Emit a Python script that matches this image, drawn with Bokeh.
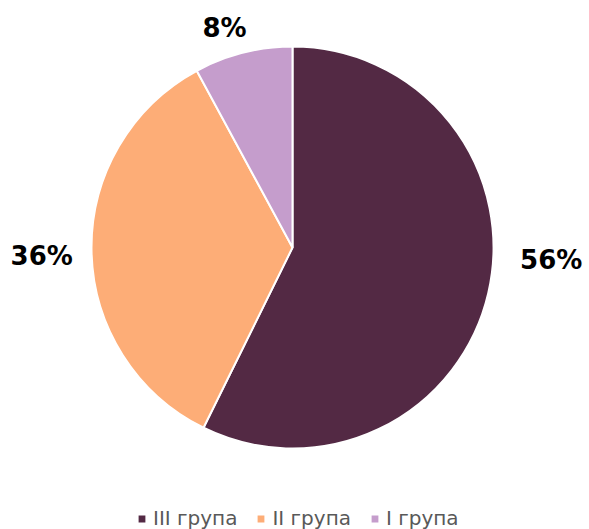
import math
from bokeh.plotting import figure
from bokeh.models import ColumnDataSource, Legend, LegendItem
from bokeh.embed import file_html
from bokeh.resources import INLINE

# data
categories = ["III група", "II група", "I група"]
shares = [57.3, 34.8, 7.9]
share_labels = ["56%", "36%", "8%"]
colors = ["#532944", "#FDAD77", "#C59DCC"]

# layout (pixels)
W, H = 589, 529
cx, cy, R = 292, 282, 201
label_angle = [92.7, 268.0, 342.8]   # clockwise from top, degrees
label_dist = [259, 251, 230]

total = sum(shares)
starts, ends = [], []
cum = 0.0
for s in shares:
    starts.append(math.pi / 2 - cum / total * 2 * math.pi)
    cum += s
    ends.append(math.pi / 2 - cum / total * 2 * math.pi)

src = ColumnDataSource(dict(cat=categories, start=starts, end=ends, color=colors,
                            x=[cx] * 3, y=[cy] * 3))

p = figure(width=W, height=H, x_range=(0, W), y_range=(0, H),
           output_backend="svg", toolbar_location=None, min_border=0,
           tools="")
p.axis.visible = False
p.grid.visible = False
p.outline_line_color = None
p.background_fill_color = "white"
p.border_fill_color = "white"

r = p.wedge(x="x", y="y", radius=R, start_angle="start", end_angle="end",
            direction="clock", fill_color="color", line_color="white",
            line_width=2, source=src)

lx = [cx + d * math.sin(math.radians(a)) for a, d in zip(label_angle, label_dist)]
ly = [cy + d * math.cos(math.radians(a)) for a, d in zip(label_angle, label_dist)]
lsrc = ColumnDataSource(dict(x=lx, y=ly, t=share_labels))
p.text(x="x", y="y", text="t", source=lsrc, text_align="center",
       text_baseline="middle", text_font_size="26px", text_font_style="bold",
       text_color="#000000", text_font={"value": "DejaVu Sans"})

items = [LegendItem(label=c, renderers=[r], index=i) for i, c in enumerate(categories)]
legend = Legend(items=items, orientation="horizontal", location=(136, -1),
                glyph_width=11, glyph_height=11, label_standoff=6, spacing=18,
                padding=0, margin=0, border_line_color=None,
                background_fill_alpha=0, label_text_font="DejaVu Sans",
                label_text_font_size="20px", label_text_color="#595959")
p.add_layout(legend, "center")

open("out.html", "w").write(file_html(p, INLINE))
